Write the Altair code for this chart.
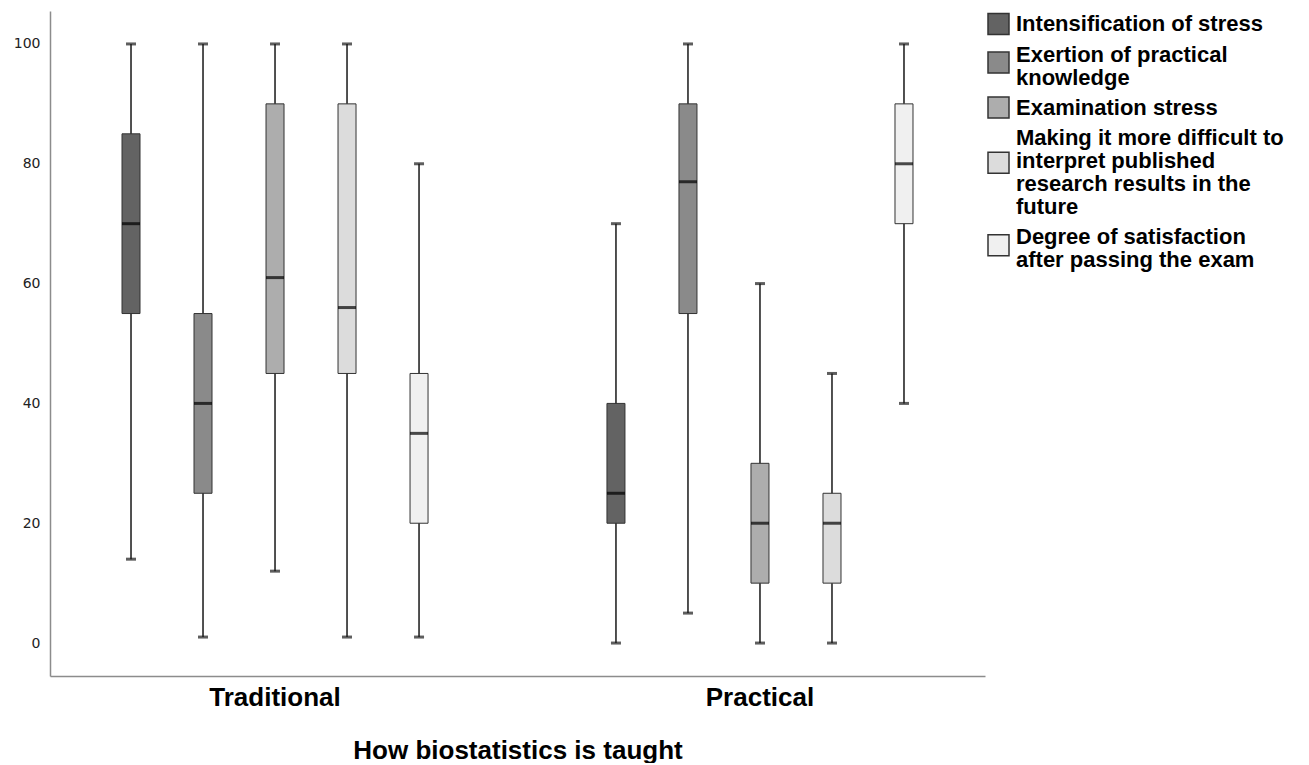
import altair as alt
import pandas as pd

methods = ["Traditional", "Practical"]
variables = [
    "Intensification of stress",
    "Exertion of practical|knowledge",
    "Examination stress",
    "Making it more difficult to|interpret published|research results in the|future",
    "Degree of satisfaction|after passing the exam",
]
fill_colors = ["#636363", "#8a8a8a", "#adadad", "#dcdcdc", "#f0f0f0"]

trad_min = [14, 1, 12, 1, 1]
trad_q1 = [55, 25, 45, 45, 20]
trad_med = [70, 40, 61, 56, 35]
trad_q3 = [85, 55, 90, 90, 45]
trad_max = [100, 100, 100, 100, 80]

prac_min = [0, 5, 0, 0, 40]
prac_q1 = [20, 55, 10, 10, 70]
prac_med = [25, 77, 20, 20, 80]
prac_q3 = [40, 90, 30, 25, 90]
prac_max = [70, 100, 60, 45, 100]

y_ticks = [0, 20, 40, 60, 80, 100]

rows = []
for m, (mn, q1, md, q3, mx) in zip(
    methods,
    [(trad_min, trad_q1, trad_med, trad_q3, trad_max),
     (prac_min, prac_q1, prac_med, prac_q3, prac_max)],
):
    for i, v in enumerate(variables):
        rows.append({"method": m, "variable": v, "lo": mn[i], "q1": q1[i],
                     "med": md[i], "q3": q3[i], "hi": mx[i]})
df = pd.DataFrame(rows)

color_scale = alt.Scale(domain=variables, range=fill_colors)
yscale = alt.Scale(domain=[-5.5, 105.5], nice=False, zero=False)

base = alt.Chart(df).encode(
    x=alt.X(
        "method:N", sort=methods,
        scale=alt.Scale(paddingInner=0.2, paddingOuter=0.064),
        axis=alt.Axis(
            labelAngle=0, ticks=False, domainColor="#8c8c8c", domainWidth=1.5,
            labelFont="Liberation Sans", labelFontSize=26, labelFontWeight="bold",
            labelColor="black", labelPadding=8,
            title="How biostatistics is taught", titleFont="Liberation Sans",
            titleFontSize=26, titleFontWeight="bold", titleColor="black",
            titlePadding=27,
        ),
    ),
    xOffset=alt.XOffset(
        "variable:N", sort=variables,
        scale=alt.Scale(paddingInner=0, paddingOuter=0.194),
    ),
)

whisker = base.mark_rule(color="#262626", strokeWidth=1.6).encode(
    y=alt.Y(
        "lo:Q", scale=yscale,
        axis=alt.Axis(
            values=y_ticks, ticks=False, grid=False, domainColor="#8c8c8c",
            domainWidth=1.5, labelFont="DejaVu Sans", labelFontSize=14,
            labelColor="#222222", labelPadding=10, title=None,
        ),
    ),
    y2="hi:Q",
)

box = base.mark_bar(size=18, stroke="#333333", strokeWidth=1).encode(
    y=alt.Y("q1:Q", scale=yscale),
    y2="q3:Q",
    fill=alt.Fill("variable:N", sort=variables, scale=color_scale, legend=None),
)

median = base.mark_tick(color="black", thickness=3, size=18).encode(
    y=alt.Y("med:Q", scale=yscale)
)
cap_lo = base.mark_tick(color="#1a1a1a", thickness=3, size=10).encode(
    y=alt.Y("lo:Q", scale=yscale)
)
cap_hi = base.mark_tick(color="#1a1a1a", thickness=3, size=10).encode(
    y=alt.Y("hi:Q", scale=yscale)
)

main = alt.layer(whisker, box, median, cap_lo, cap_hi).properties(width=935, height=665)

# custom legend: entries stacked by their number of text lines
line_px = 23
gap_lines = 0.315
n_lines = [len(v.split("|")) for v in variables]
tops = []
acc = 0.0
for n in n_lines:
    tops.append(acc)
    acc += n + gap_lines
sym_pos = [t + 0.42 + 0.36 * (n - 1) for t, n in zip(tops, n_lines)]
legend_df = pd.DataFrame({"variable": variables, "top": tops, "sym": sym_pos})

ls = alt.Scale(domain=[-0.148, 665 / line_px - 0.148], reverse=True, nice=False, zero=False)

leg_sym = alt.Chart(legend_df).mark_square(
    size=441, stroke="#333333", strokeWidth=1.5, opacity=1
).encode(
    x=alt.value(12.5),
    y=alt.Y("sym:Q", scale=ls, axis=None),
    fill=alt.Fill("variable:N", sort=variables, scale=color_scale, legend=None),
)
leg_txt = alt.Chart(legend_df).mark_text(
    align="left", baseline="top", lineBreak="|", lineHeight=line_px,
    font="Liberation Sans", fontSize=22, fontWeight="bold", color="black",
).encode(
    x=alt.value(30),
    y=alt.Y("top:Q", scale=ls, axis=None),
    text="variable:N",
)
legend = alt.layer(leg_sym, leg_txt).properties(width=290, height=665)

chart = (
    alt.hconcat(main, legend, spacing=0)
    .properties(padding={"left": 5, "top": 2, "right": 2, "bottom": 0},
                background="white")
    .configure_view(stroke=None)
)

chart.save("out.html", embed_options={"renderer": "svg", "actions": False})
